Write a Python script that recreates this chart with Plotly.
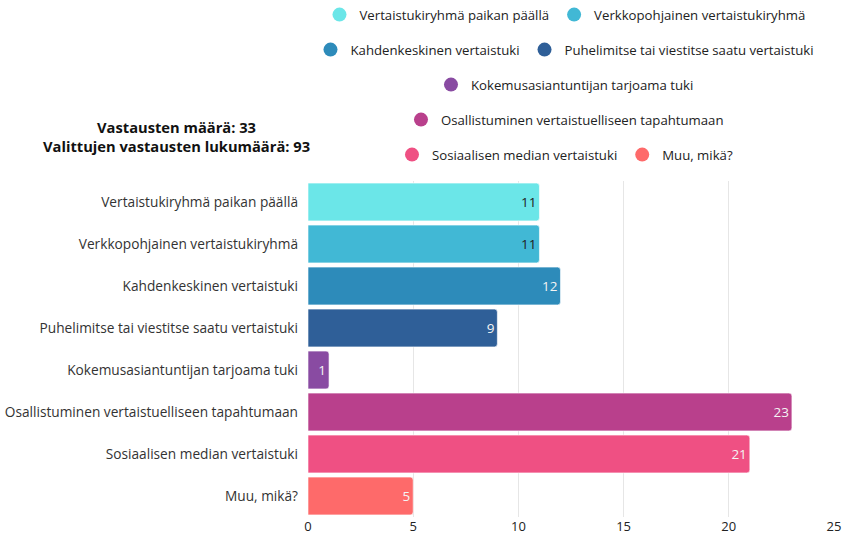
import plotly.graph_objects as go

categories = [
    "Vertaistukiryhmä paikan päällä",
    "Verkkopohjainen vertaistukiryhmä",
    "Kahdenkeskinen vertaistuki",
    "Puhelimitse tai viestitse saatu vertaistuki",
    "Kokemusasiantuntijan tarjoama tuki",
    "Osallistuminen vertaistuelliseen tapahtumaan",
    "Sosiaalisen median vertaistuki",
    "Muu, mikä?",
]
values = [11, 11, 12, 9, 1, 23, 21, 5]
colors = ["#6be6e8", "#41b8d5", "#2d8bba", "#2f5f98", "#894ba2", "#b9408c", "#ef5083", "#fe6a6a"]
text_colors = ["#222222", "#222222", "#f4f4f4", "#f4f4f4", "#f4f4f4", "#f4f4f4", "#f4f4f4", "#f4f4f4"]
legend_rows = ["legend", "legend", "legend2", "legend2", "legend3", "legend4", "legend5", "legend5"]
x_ticks = [0, 5, 10, 15, 20, 25]

FONT = "Open Sans, Noto Sans, sans-serif"

fig = go.Figure()
fig.add_trace(go.Bar(
    y=categories, x=values, orientation="h",
    marker=dict(color=colors, line=dict(color="rgba(255,255,255,0.6)", width=1), cornerradius=3),
    text=values, texttemplate="%{x}", textposition="inside", insidetextanchor="end",
    textfont=dict(color=text_colors, size=13.5, family=FONT),
    width=0.9, showlegend=False, hoverinfo="skip",
))

for cat, col, lg in zip(categories, colors, legend_rows):
    fig.add_trace(go.Scatter(
        x=[None], y=[None], mode="markers", name=cat,
        marker=dict(symbol="circle", size=14, color=col),
        legend=lg, showlegend=True,
    ))

W, H = 843, 536
plot_left, plot_right, plot_top, plot_bottom = 308, 834, 181, 517
L, R, T, B = plot_left, W - plot_right, plot_top, H - plot_bottom
pw, ph = W - L - R, H - T - B

def py2paper(py):
    return (plot_bottom - py) / ph

def px2paper(px):
    return (px - plot_left) / pw

legend_ys = [15, 50, 85, 120, 155]
lx = px2paper(565)
legend_common = dict(orientation="h", xanchor="center", yanchor="middle",
                     bgcolor="rgba(0,0,0,0)", font=dict(size=13.2, family=FONT, color="#222"),
                     itemclick=False, itemdoubleclick=False, itemwidth=30)

layout_legends = {}
for i, ypx in enumerate(legend_ys):
    key = "legend" if i == 0 else f"legend{i+1}"
    layout_legends[key] = dict(x=lx, y=py2paper(ypx), **legend_common)

fig.update_layout(
    width=W, height=H,
    margin=dict(l=L, r=R, t=T, b=B, autoexpand=False),
    paper_bgcolor="white", plot_bgcolor="white",
    font=dict(family=FONT, size=13, color="#333"),
    xaxis=dict(range=[0, 25], tickvals=x_ticks, showgrid=True, gridcolor="#e6e6e6",
               zeroline=False, showline=False, ticks="", tickfont=dict(size=13, color="#222"),
               fixedrange=True, automargin=False),
    yaxis=dict(autorange="reversed", showgrid=False, ticks="", ticklabelstandoff=9,
               tickfont=dict(size=13.7, color="#333"), fixedrange=True, automargin=False),
    annotations=[dict(
        text="<b>Vastausten määrä: 33<br>Valittujen vastausten lukumäärä: 93</b>",
        xref="paper", yref="paper", x=px2paper(176), y=py2paper(136),
        xanchor="center", yanchor="middle", showarrow=False,
        font=dict(size=14.7, family=FONT, color="#111"), align="center",
    )],
    **layout_legends,
)

fig.write_html(
    "out.html",
    config={"displayModeBar": False},
    post_script="document.body.style.margin='0';document.body.style.overflow='hidden';",
)
